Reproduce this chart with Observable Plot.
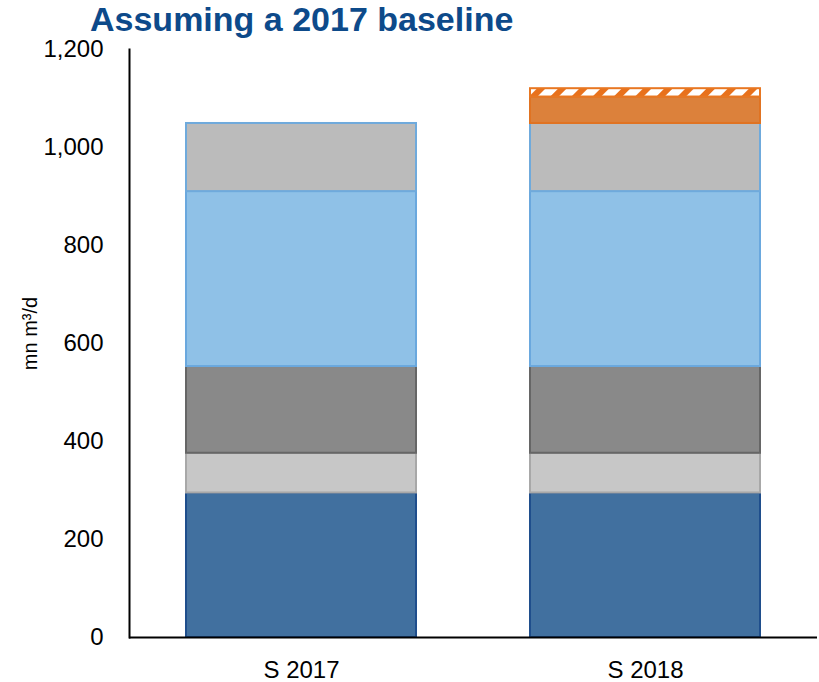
<!DOCTYPE html>
<html><head><meta charset="utf-8">
<script src="https://cdn.jsdelivr.net/npm/d3@7"></script>
<script src="https://cdn.jsdelivr.net/npm/@observablehq/plot@0.6"></script>
<style>
body{margin:0;background:#fff;font-family:"Liberation Sans",Arial,sans-serif;}
#title{height:40px;box-sizing:border-box;padding-left:90px;padding-top:2px;font-size:34px;font-weight:bold;color:#0D4A8A;line-height:34px;white-space:nowrap;}
</style></head><body>
<div id="title"></div>
<div id="chart"></div>
<script>
const titleText = "Assuming a 2017 baseline";
const categories = ["S 2017", "S 2018"];
const segments = ["Segment 1", "Segment 2", "Segment 3", "Segment 4", "Segment 5", "Segment 6", "Segment 7"];
const values2017 = [295, 81, 177, 357, 139, 0, 0];
const values2018 = [295, 81, 177, 357, 139, 54, 17];
const yTicks = [0, 200, 400, 600, 800, 1000, 1200];
const yLabel = "mn m³/d";

// styles
const fills = ["#41709F", "#C7C7C7", "#898989", "#8FC1E7", "#BBBBBB", "#DC813B", "url(#hatch)"];
const strokes = ["#1F4E8C", "#A8A8A8", "#666666", "#6AA8DE", "#6FAADC", "#E07322", "#E87722"];

document.getElementById("title").textContent = titleText;

const seriesValues = [values2017, values2018];
const data = [];
categories.forEach((c, ci) => {
  segments.forEach((s, si) => {
    const v = seriesValues[ci][si];
    if (v > 0) data.push({category: c, segment: s, value: v, fill: fills[si], stroke: strokes[si]});
  });
});

const chart = Plot.plot({
  width: 819,
  height: 642,
  marginLeft: 129,
  marginRight: 2,
  marginTop: 9,
  marginBottom: 45,
  style: {fontFamily: "'Liberation Sans', Arial, sans-serif", fontSize: "24px", overflow: "visible", color: "#000"},
  x: {type: "band", domain: categories, paddingInner: 0.33, paddingOuter: 0.163},
  y: {domain: [0, 1200]},
  color: {type: "identity"},
  marks: [
    Plot.barY(data, {x: "category", y: "value", fill: "fill", stroke: "stroke", strokeWidth: 2}),
    Plot.axisX({tickSize: 0, tickPadding: 23, label: null, fontSize: 24}),
    Plot.axisY({ticks: yTicks, tickSize: 0, tickPadding: 26, tickFormat: d3.format(","), label: null, fontSize: 24}),
    Plot.ruleY([0], {stroke: "#000", strokeWidth: 2}),
    Plot.frame({anchor: "left", stroke: "#000", strokeWidth: 2}),
    Plot.text([yLabel], {frameAnchor: "left", text: d => d, rotate: -90, textAnchor: "middle", lineAnchor: "middle", dx: -99, dy: -10, fontSize: 20, fill: "#000"})
  ]
});

const svg = chart.tagName.toLowerCase() === "svg" ? chart : chart.querySelector("svg");
const ns = "http://www.w3.org/2000/svg";
const defs = document.createElementNS(ns, "defs");
defs.innerHTML = '<pattern id="hatch" patternUnits="userSpaceOnUse" width="15" height="15" patternTransform="rotate(45)"><rect width="15" height="15" fill="#E8711C"/><rect x="0" y="0" width="9" height="15" fill="#ffffff"/></pattern>';
svg.insertBefore(defs, svg.firstChild);

document.getElementById("chart").appendChild(chart);
</script>
</body></html>
